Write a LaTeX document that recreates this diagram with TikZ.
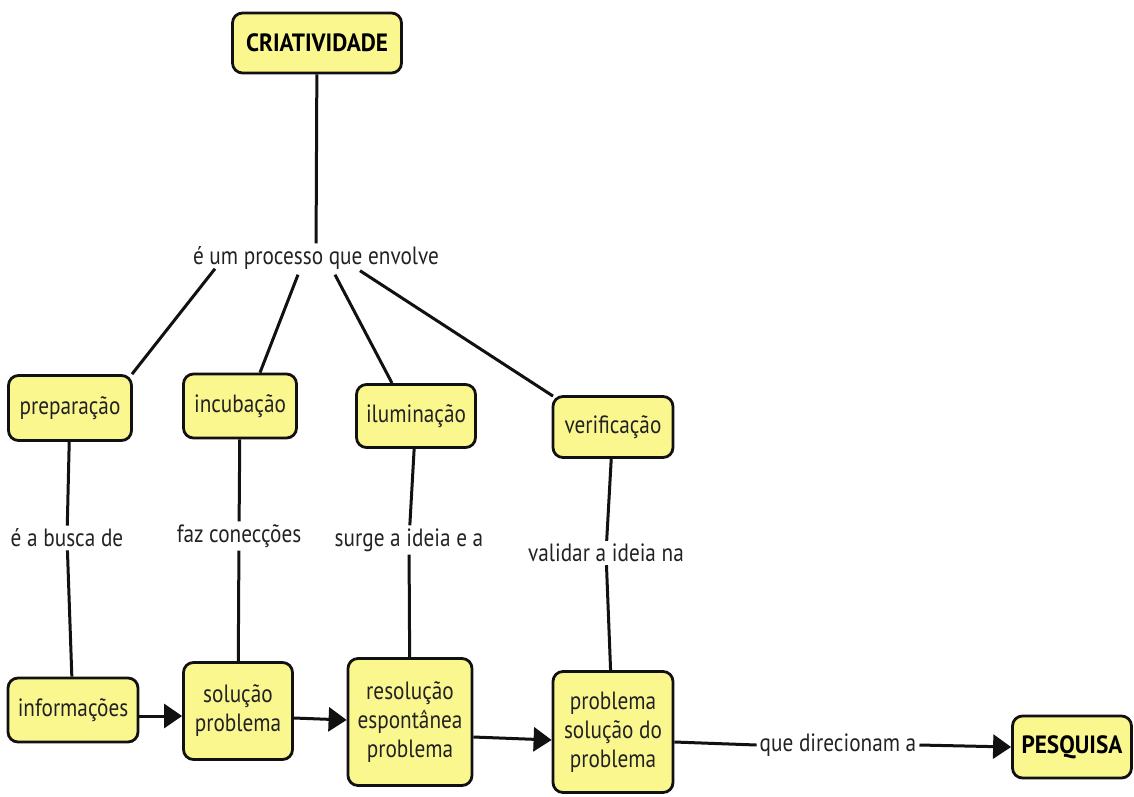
\documentclass[tikz,border=0pt]{standalone}
\usepackage{fontspec}
\setmainfont{PT Sans}[FakeStretch=0.85, BoldFeatures={FakeStretch=0.93}]
\usetikzlibrary{arrows.meta}
\definecolor{conceptfill}{HTML}{FBF78F}
\definecolor{conceptline}{HTML}{111111}
\definecolor{inktext}{HTML}{222222}
\tikzset{
  concept/.style={draw=conceptline, fill=conceptfill, line width=2.8pt,
    rounded corners=10pt, align=center, inner sep=2pt, text=inktext,
    font=\fontsize{25}{29}\selectfont},
  keyconcept/.style={concept, font=\fontsize{25}{29}\selectfont\bfseries, text=black},
  linkword/.style={inner sep=3pt, text=inktext, font=\fontsize{25}{29}\selectfont},
  link/.style={line width=3pt, draw=conceptline},
  flow/.style={link, -{Triangle[length=18pt,width=24pt]}}
}
\begin{document}
\begin{tikzpicture}[x=1pt,y=-1pt]
\useasboundingbox (0,0) rectangle (1134,796);

% top concept and its linking phrase
\node[keyconcept, minimum width=169pt, minimum height=60pt] (crit) at (317,43) {CRIATIVIDADE};
\node[linkword] (proc) at (316,258) {é um processo que envolve};

% the four stages
\node[concept, minimum width=123pt, minimum height=65pt] (prep) at (70,408) {preparação};
\node[concept, minimum width=113pt, minimum height=64pt] (incub) at (240,406) {incubação};
\node[concept, minimum width=119pt, minimum height=63pt] (ilum) at (416,416) {iluminação};
\node[concept, minimum width=120pt, minimum height=61pt] (verif) at (613,427) {verificação};

% linking phrases under the stages
\node[linkword] (l1) at (67,538) {é a busca de};
\node[linkword] (l2) at (239,536) {faz conecções};
\node[linkword] (l3) at (409,540) {surge a ideia e a};
\node[linkword] (l4) at (606,553) {validar a ideia na};

% results of each stage
\node[concept, minimum width=130pt, minimum height=64pt] (info) at (73,710) {informações};
\node[concept, minimum width=109pt, minimum height=97pt] (sol) at (238,711) {solução\\problema};
\node[concept, minimum width=124pt, minimum height=127pt] (res) at (410,722) {resolução\\espontânea\\problema};
\node[concept, minimum width=120pt, minimum height=121pt] (prob) at (613,732) {problema\\solução do\\problema};
\node[keyconcept, minimum width=119pt, minimum height=62pt] (pesq) at (1072,747) {PESQUISA};
\node[linkword] (l5) at (838,745) {que direcionam a};

% connectors
\draw[link] (crit) -- (proc);
\draw[link] ([xshift=-101pt,yshift=4pt]proc.south) -- ([xshift=62pt]prep.north);
\draw[link] ([xshift=-18pt,yshift=-2pt]proc.south) -- ([xshift=20pt]incub.north);
\draw[link] ([xshift=19pt,yshift=-2pt]proc.south) -- ([xshift=-24pt]ilum.north);
\draw[link] ([xshift=44pt,yshift=2pt]proc.south) -- ([xshift=-60pt,yshift=-1pt]verif.north);

\draw[link] (prep) -- (l1);
\draw[link] (l1) -- (info);
\draw[link] (incub) -- (l2);
\draw[link] (l2) -- (sol);
\draw[link] (ilum) -- (l3);
\draw[link] (l3) -- (res);
\draw[link] (verif) -- (l4);
\draw[link] (l4) -- (prob);

\draw[flow] ([yshift=-6pt]info.east) -- ([yshift=-5pt]sol.west);
\draw[flow] ([yshift=-7pt]sol.east) -- ([yshift=2pt]res.west);
\draw[flow] ([yshift=-15pt]res.east) -- ([yshift=-8pt]prob.west);
\draw[link] ([yshift=-10pt]prob.east) -- (l5.west);
\draw[flow] (l5.east) -- (pesq.west);
\end{tikzpicture}
\end{document}
